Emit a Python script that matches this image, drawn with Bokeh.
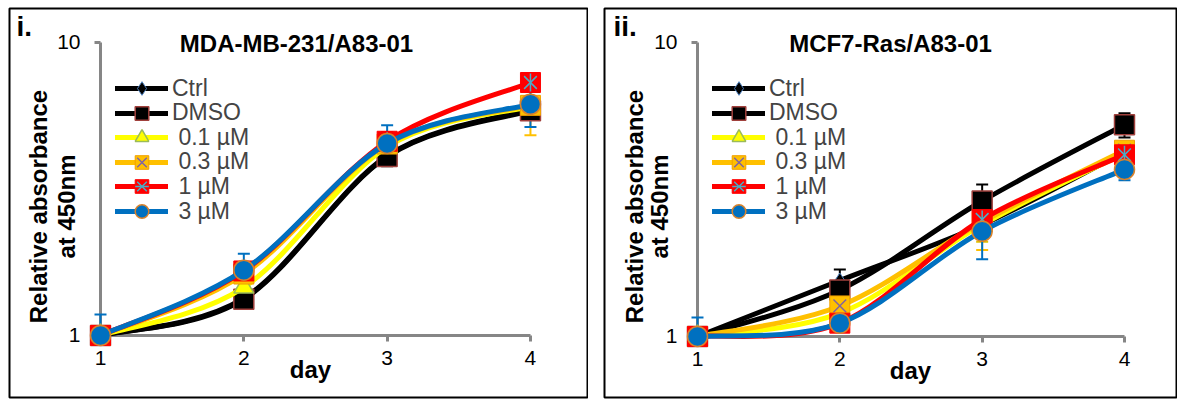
import numpy as np
from bokeh.plotting import figure
from bokeh.models import (ColumnDataSource, Whisker, TeeHead, LinearAxis, LogAxis,
                          FixedTicker, Label, Legend, LegendItem, Range1d, Grid,
                          PrintfTickFormatter, Row)
from bokeh.embed import file_html
from bokeh.resources import INLINE

# ---------------- data ----------------
days = [1, 2, 3, 4]
series_labels = ["Ctrl", "DMSO", "\u00a00.1 µM", "\u00a00.3 µM", "\u00a01 µM", "\u00a03 µM"]

# MDA-MB-231/A83-01 (relative absorbance at 450nm)
mda_ctrl = [1.0, 1.34, 4.10, 5.90]
mda_dmso = [1.0, 1.33, 4.08, 5.85]
mda_c01 = [1.0, 1.46, 4.40, 6.05]
mda_c03 = [1.0, 1.62, 4.50, 6.10]
mda_c1 = [1.0, 1.66, 4.60, 7.30]
mda_c3 = [1.0, 1.67, 4.52, 6.15]
mda_ctrl_err = [0.04, 0.05, 0.20, 0.20]
mda_dmso_err = [0.04, 0.06, 0.30, 0.30]
mda_c01_err = [0.04, 0.08, 0.30, 0.30]
mda_c03_err = [0.04, 0.10, 0.35, 1.28]
mda_c1_err = [0.04, 0.10, 0.35, 0.40]
mda_c3_err = [0.18, 0.23, 0.70, 1.00]

# MCF7-Ras/A83-01
mcf_ctrl = [1.0, 1.55, 2.40, 4.25]
mcf_dmso = [1.0, 1.44, 2.89, 5.25]
mcf_c01 = [1.0, 1.20, 2.40, 4.20]
mcf_c03 = [1.0, 1.27, 2.45, 4.30]
mcf_c1 = [1.0, 1.11, 2.50, 4.15]
mcf_c3 = [1.0, 1.11, 2.28, 3.70]
mcf_ctrl_err = [0.04, 0.14, 0.20, 0.30]
mcf_dmso_err = [0.04, 0.10, 0.40, 0.50]
mcf_c01_err = [0.04, 0.05, 0.30, 0.30]
mcf_c03_err = [0.04, 0.10, 0.48, 0.30]
mcf_c1_err = [0.04, 0.05, 0.30, 0.30]
mcf_c3_err = [0.16, 0.05, 0.45, 0.30]

y_ticks = [1, 10]
x_ticks = [1, 2, 3, 4]

# ---------------- styles ----------------
FONT = "Liberation Sans"
AXIS_GRAY = "#868686"
LINE_COLORS = ["#000000", "#000000", "#FFFF00", "#FFC000", "#FF0000", "#0070C0"]
H = 399
Y_FLOOR = 1.0  # plot area starts at 1 on the log axis
LEG_ROW = 24.6   # legend row pitch (px)
LEG_GLYPH_H = 34


def smooth_parts(xs, ys):
    """Bezier segments (Catmull-Rom, like spreadsheet smoothed lines) in x / log10(y) space."""
    lx = np.asarray(xs, float)
    ly = np.log10(np.asarray(ys, float))
    px = np.concatenate([[lx[0]], lx, [lx[-1]]])
    py = np.concatenate([[ly[0]], ly, [ly[-1]]])
    n = len(lx)
    t = 1.0 / 6.0
    i = np.arange(n - 1)
    cx0 = lx[i] + (px[i + 2] - px[i]) * t
    cy0 = ly[i] + (py[i + 2] - py[i]) * t
    cx1 = lx[i + 1] - (px[i + 3] - px[i + 1]) * t
    cy1 = ly[i + 1] - (py[i + 3] - py[i + 1]) * t
    return dict(x0=lx[:-1], y0=10 ** ly[:-1], x1=lx[1:], y1=10 ** ly[1:],
                cx0=cx0, cy0=10 ** cy0, cx1=cx1, cy1=10 ** cy1)


def add_markers(p, src, k):
    rs = []
    if k == 0:   # Ctrl: diamond
        rs.append(p.scatter("x", "y", source=src, marker="diamond", size=15,
                            fill_color="#000000", line_color="#4F81BD", line_width=1))
    elif k == 1:  # DMSO: square
        rs.append(p.scatter("x", "y", source=src, marker="square", size=20,
                            fill_color="#000000", line_color="#A0403C", line_width=1.5))
    elif k == 2:  # 0.1: triangle
        rs.append(p.scatter("x", "y", source=src, marker="triangle", size=20,
                            fill_color="#FFFF00", line_color="#9BBB59", line_width=1.5))
    elif k == 3:  # 0.3: square with x
        rs.append(p.scatter("x", "y", source=src, marker="square", size=20,
                            fill_color="#FFC000", line_color="#F0A000", line_width=1))
        rs.append(p.scatter("x", "y", source=src, marker="x", size=18,
                            line_color="#8064A2", line_width=1.5))
    elif k == 4:  # 1: square with star
        rs.append(p.scatter("x", "y", source=src, marker="square", size=20,
                            fill_color="#FF0000", line_color="#FF0000", line_width=1))
        rs.append(p.scatter("x", "y", source=src, marker="x", size=18,
                            line_color="#4BACC6", line_width=1.5))
        rs.append(p.scatter("x", "y", source=src, marker="dash", size=18, angle=np.pi / 2,
                            line_color="#4BACC6", line_width=1.5))
    else:  # 3: circle
        rs.append(p.scatter("x", "y", source=src, marker="circle", size=20,
                            fill_color="#0070C0", line_color="#D9822B", line_width=1.5))
    return rs


def make_panel(width, x_range, y_range, series, errs, title, tag, pos, mb):
    p = figure(width=width, height=H, x_range=Range1d(*x_range), y_range=Range1d(*y_range),
               y_axis_type="log", x_axis_location=None, y_axis_location=None,
               toolbar_location=None, output_backend="svg",
               min_border_left=mb[0], min_border_right=mb[1],
               min_border_top=mb[2], min_border_bottom=mb[3])
    # no grid lines
    p.center = [r for r in p.center if not isinstance(r, Grid)]
    p.outline_line_color = "#000000"
    p.outline_line_width = 2
    p.background_fill_color = "#FFFFFF"
    p.border_fill_color = "#FFFFFF"

    yax = LogAxis(fixed_location=1, bounds=(1, 10), ticker=FixedTicker(ticks=y_ticks),
                  formatter=PrintfTickFormatter(format="%d"),
                  major_label_text_font=FONT, major_label_text_font_size="21px")
    xax = LinearAxis(fixed_location=1, bounds=(1, 4), ticker=FixedTicker(ticks=x_ticks),
                     major_label_text_font=FONT, major_label_text_font_size="21px")
    for ax in (yax, xax):
        ax.axis_line_color = AXIS_GRAY
        ax.axis_line_width = 3
        ax.major_tick_line_color = AXIS_GRAY
        ax.major_tick_line_width = 3
        ax.major_tick_out = 6
        ax.major_tick_in = 0
        ax.minor_tick_out = 0
        ax.minor_tick_in = 0
        ax.major_label_text_color = "#000000"
        ax.level = "underlay"
    yax.major_label_standoff = 14
    xax.major_label_standoff = 10
    p.add_layout(yax, "left")
    p.add_layout(xax, "below")

    frame_h = H - mb[2] - mb[3]
    lx, first_row = pos["legend"]
    for k, (ys, es) in enumerate(zip(series, errs)):
        col = LINE_COLORS[k]
        up = [y + e for y, e in zip(ys, es)]
        lo = [max(y - e, Y_FLOOR) for y, e in zip(ys, es)]
        src = ColumnDataSource(dict(x=days, y=ys, upper=up, lower=lo))
        wcol = col if k != 2 else "#E0C000"
        w = Whisker(base="x", upper="upper", lower="lower", source=src,
                    line_color=wcol, line_width=2, level="underlay",
                    upper_head=TeeHead(size=12, line_color=wcol, line_width=2),
                    lower_head=TeeHead(size=12, line_color=wcol, line_width=2))
        p.add_layout(w)
        bz = p.bezier(source=ColumnDataSource(smooth_parts(days, ys)),
                      x0="x0", y0="y0", x1="x1", y1="y1",
                      cx0="cx0", cy0="cy0", cx1="cx1", cy1="cy1",
                      line_color=col, line_width=5, line_cap="round")
        rs = add_markers(p, src, k)
        # one legend row per series (row centre measured from the frame top)
        row_center = first_row + LEG_ROW * k
        vy = frame_h - (row_center + LEG_GLYPH_H / 2)
        leg = Legend(items=[LegendItem(label=series_labels[k], renderers=[bz] + rs)],
                     location=(lx, vy), glyph_width=53, glyph_height=LEG_GLYPH_H,
                     spacing=0, padding=0, margin=0, label_standoff=4,
                     label_text_font=FONT, label_text_font_size="23px", label_height=24,
                     border_line_color=None, background_fill_alpha=0)
        p.add_layout(leg, "center")

    def lab(text, x, y, size, bold=True, align="left", angle=0.0):
        p.add_layout(Label(x=x, y=y, x_units="screen", y_units="screen", text=text,
                           text_font=FONT, text_font_size=size,
                           text_font_style="bold" if bold else "normal",
                           text_align=align, text_baseline="alphabetic",
                           text_color="#000000", angle=angle))

    lab(tag, pos["tag"][0], pos["tag"][1], "28px")
    lab(title, pos["title"][0], pos["title"][1], "24px", align="center")
    lab("Relative absorbance", pos["yl1"][0], pos["yl1"][1], "24px", align="center", angle=np.pi / 2)
    lab("at 450nm", pos["yl2"][0], pos["yl2"][1], "24px", align="center", angle=np.pi / 2)
    lab("day", pos["day"][0], pos["day"][1], "24px", align="center")
    return p


mda_series = [mda_ctrl, mda_dmso, mda_c01, mda_c03, mda_c1, mda_c3]
mda_errs = [mda_ctrl_err, mda_dmso_err, mda_c01_err, mda_c03_err, mda_c1_err, mda_c3_err]
mcf_series = [mcf_ctrl, mcf_dmso, mcf_c01, mcf_c03, mcf_c1, mcf_c3]
mcf_errs = [mcf_ctrl_err, mcf_dmso_err, mcf_c01_err, mcf_c03_err, mcf_c1_err, mcf_c3_err]

# frames: left panel x 9..587, right panel x 604..1177, both y 8..397
p1 = make_panel(588, (0.365, 4.398), (0.614, 13.06), mda_series, mda_errs,
                "MDA-MB-231/A83-01", "i.",
                dict(legend=(106, 80), tag=(7, 371), title=(287, 354),
                     yl1=(29, 191), yl2=(57, 191), day=(301, 28)), (9, 1, 8, 2))
p2 = make_panel(574, (0.3466, 4.3724), (0.620, 13.05), mcf_series, mcf_errs,
                "MCF7-Ras/A83-01", "ii.",
                dict(legend=(108, 80), tag=(9, 371), title=(286, 354),
                     yl1=(30, 191), yl2=(55, 191), day=(306, 27)), (1, 0, 8, 2))

layout = Row(children=[p1, p2], spacing=15)

with open("out.html", "w") as f:
    f.write(file_html(layout, INLINE))
